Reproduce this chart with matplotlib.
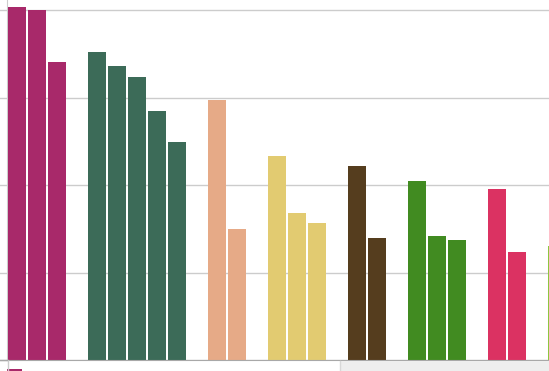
import matplotlib
matplotlib.use("Agg")
import matplotlib.pyplot as plt
from matplotlib.patches import Rectangle
from matplotlib.lines import Line2D

# Data (grid step = 100)
group_values = [
    [403, 400, 341],
    [352, 336, 324, 285, 249],
    [297, 150],
    [233, 168, 157],
    [222, 140],
    [205, 142, 137],
    [196, 123],
    [130],
]
group_colors = ["#A8296A", "#3C6B58", "#E6AA87", "#E2CB71",
                "#553D1E", "#418B21", "#DB3262", "#8DC63F"]
y_ticks = [0, 100, 200, 300, 400]

W, H = 549, 371
fig = plt.figure(figsize=(W / 100, H / 100), dpi=100)
fig.patch.set_facecolor("white")

ax = fig.add_axes([7 / W, 11 / H, (W - 7) / W, 360 / H])

pos = 0
for vals, col in zip(group_values, group_colors):
    xs = list(range(pos, pos + len(vals)))
    ax.bar(xs, vals, width=0.9, color=col, zorder=3, linewidth=0)
    pos += len(vals) + 1

ax.set_xlim(-0.5, (W - 7) / 20 - 0.5)
ax.set_ylim(0, 360 / 0.875)
ax.set_yticks(y_ticks)
ax.set_yticklabels([])
ax.set_xticks([])
ax.tick_params(axis="y", length=7, color="#CCCCCC", width=1)
ax.grid(axis="y", color="#CCCCCC", linewidth=1, zorder=0)
for s in ["top", "right"]:
    ax.spines[s].set_visible(False)
ax.spines["left"].set_color("#CCCCCC")
ax.spines["bottom"].set_color("#A8A8A8")
ax.spines["bottom"].set_zorder(4)

# scrollbar-like strip and cropped legend marker below
fig.patches.append(Rectangle((340 / W, 0), (W - 340) / W, 10 / H,
                             transform=fig.transFigure, facecolor="#EEEEEE",
                             edgecolor="none", zorder=0))
fig.lines.append(Line2D([340 / W, 340 / W], [0, 10 / H], transform=fig.transFigure,
                        color="#D8D8D8", linewidth=1))
fig.lines.append(Line2D([7.5 / W, 7.5 / W], [0, 11 / H], transform=fig.transFigure,
                        color="#CCCCCC", linewidth=1))
fig.lines.append(Line2D([0, 7 / W], [11 / H, 11 / H], transform=fig.transFigure,
                        color="#A8A8A8", linewidth=1))
fig.patches.append(Rectangle((7 / W, 0), 15 / W, 2.5 / H,
                             transform=fig.transFigure, facecolor=group_colors[0],
                             edgecolor="none"))

fig.savefig("out.png", dpi=100)
